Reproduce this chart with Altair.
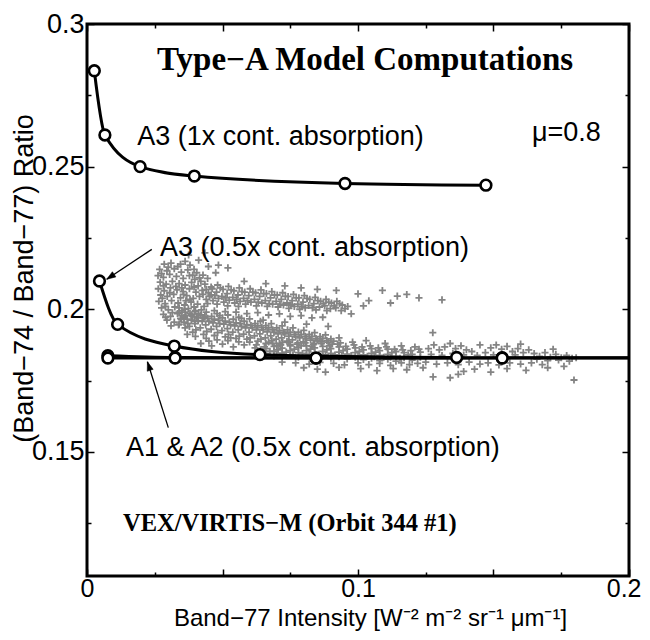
import altair as alt
import pandas as pd

# ---------------- axes ----------------
X_DOMAIN = [0.0, 0.2]
Y_DOMAIN = [0.1065, 0.3]
x_major = [0.0, 0.05, 0.1, 0.15, 0.2]
x_minor = [0.025, 0.075, 0.125, 0.175]
x_last = [0.2]
y_major = [0.15, 0.2, 0.25, 0.3]
y_minor = [0.125, 0.175, 0.225, 0.275]

# ---------------- model curves ----------------
a3_1x_x = [0.0027, 0.0066, 0.0196, 0.0396, 0.0952, 0.1472]
a3_1x_y = [0.2836, 0.2611, 0.2500, 0.2467, 0.2441, 0.2435]
a3_05x_x = [0.0046, 0.0113, 0.0322, 0.0638, 0.1364]
a3_05x_y = [0.2099, 0.1947, 0.1871, 0.1841, 0.1831]
a1_x = [0.0077, 0.0325, 0.0845, 0.1532]
a1_y = [0.1837, 0.1831, 0.1829, 0.1830]
a2_x = [0.0077, 0.0325, 0.0845, 0.1532]
a2_y = [0.1829, 0.1829, 0.1829, 0.1829]
a12_tail_x = [0.24]      # A1/A2 curves continue beyond the frame
a12_tail_y = [0.1829]

# ---------------- VIRTIS-M observations (estimated) ----------------
cloud_upper_left = [
    (0.0285, 0.2158), (0.0310, 0.2162), (0.0335, 0.2150), (0.0362, 0.2168), (0.0380, 0.2155), (0.0395, 0.2140),
    (0.0268, 0.2140), (0.0295, 0.2135), (0.0322, 0.2142), (0.0348, 0.2130), (0.0372, 0.2138), (0.0405, 0.2128),
    (0.0428, 0.2120), (0.0262, 0.2118), (0.0282, 0.2112), (0.0305, 0.2122), (0.0330, 0.2115), (0.0355, 0.2108),
    (0.0378, 0.2118), (0.0398, 0.2105), (0.0420, 0.2098), (0.0445, 0.2108), (0.0270, 0.2095), (0.0292, 0.2088),
    (0.0315, 0.2098), (0.0340, 0.2090), (0.0362, 0.2085), (0.0386, 0.2094), (0.0410, 0.2082), (0.0435, 0.2088),
    (0.0458, 0.2078), (0.0263, 0.2072), (0.0285, 0.2065), (0.0308, 0.2075), (0.0332, 0.2068), (0.0355, 0.2062),
    (0.0378, 0.2072), (0.0402, 0.2060), (0.0425, 0.2066), (0.0448, 0.2058), (0.0272, 0.2050), (0.0296, 0.2045),
    (0.0320, 0.2052), (0.0345, 0.2040), (0.0368, 0.2048), (0.0392, 0.2038), (0.0415, 0.2045), (0.0440, 0.2035),
    (0.0265, 0.2028), (0.0288, 0.2020), (0.0312, 0.2030), (0.0336, 0.2022), (0.0360, 0.2015), (0.0384, 0.2025),
    (0.0408, 0.2018), (0.0432, 0.2010), (0.0275, 0.2005), (0.0300, 0.1998), (0.0324, 0.2008), (0.0350, 0.1995),
    (0.0374, 0.2002), (0.0398, 0.1992), (0.0422, 0.1998), (0.0282, 0.1982), (0.0308, 0.1975), (0.0334, 0.1985),
    (0.0358, 0.1972), (0.0385, 0.1980), (0.0410, 0.1970), (0.0295, 0.1962), (0.0322, 0.1955), (0.0348, 0.1965),
    (0.0372, 0.1950), (0.0398, 0.1958), (0.0375, 0.2190), (0.0412, 0.2172), (0.0448, 0.2150), (0.0475, 0.2128),
    (0.0435, 0.2198), (0.0520, 0.2145), (0.0485, 0.2155),
    (0.0275, 0.2125), (0.0300, 0.2148), (0.0345, 0.2158), (0.0390, 0.2120), (0.0415, 0.2110), (0.0282, 0.2082),
    (0.0328, 0.2080), (0.0350, 0.2075), (0.0395, 0.2078), (0.0440, 0.2070), (0.0278, 0.2038), (0.0305, 0.2058),
    (0.0356, 0.2052), (0.0380, 0.2035), (0.0428, 0.2052), (0.0452, 0.2045), (0.0290, 0.2010), (0.0340, 0.2005),
    (0.0365, 0.2030), (0.0395, 0.2008), (0.0445, 0.2020), (0.0315, 0.1988), (0.0362, 0.1990), (0.0412, 0.1985),
    (0.0435, 0.1975), (0.0290, 0.1972), (0.0340, 0.1948), (0.0310, 0.1942),
]
cloud_upper_band = [
    (0.0462, 0.2072), (0.0458, 0.2050), (0.0465, 0.2030), (0.0482, 0.2085), (0.0478, 0.2060), (0.0485, 0.2038),
    (0.0480, 0.2018), (0.0502, 0.2070), (0.0498, 0.2045), (0.0505, 0.2025), (0.0522, 0.2080), (0.0517, 0.2055),
    (0.0525, 0.2032), (0.0519, 0.2012), (0.0542, 0.2065), (0.0538, 0.2042), (0.0545, 0.2022), (0.0562, 0.2075),
    (0.0557, 0.2050), (0.0565, 0.2028), (0.0559, 0.2010), (0.0582, 0.2060), (0.0578, 0.2038), (0.0585, 0.2018),
    (0.0602, 0.2072), (0.0597, 0.2048), (0.0605, 0.2025), (0.0622, 0.2058), (0.0618, 0.2035), (0.0625, 0.2012),
    (0.0642, 0.2068), (0.0637, 0.2045), (0.0645, 0.2022), (0.0662, 0.2055), (0.0658, 0.2030), (0.0665, 0.2010),
    (0.0682, 0.2062), (0.0677, 0.2040), (0.0685, 0.2018), (0.0702, 0.2050), (0.0698, 0.2028), (0.0705, 0.2008),
    (0.0722, 0.2058), (0.0717, 0.2035), (0.0725, 0.2015), (0.0742, 0.2045), (0.0738, 0.2022), (0.0745, 0.2003),
    (0.0762, 0.2052), (0.0757, 0.2030), (0.0765, 0.2010), (0.0782, 0.2040), (0.0778, 0.2018), (0.0785, 0.2000),
    (0.0802, 0.2048), (0.0797, 0.2025), (0.0805, 0.2005), (0.0822, 0.2035), (0.0818, 0.2013), (0.0842, 0.2042),
    (0.0837, 0.2020), (0.0845, 0.1998), (0.0862, 0.2028), (0.0858, 0.2008), (0.0882, 0.2035), (0.0877, 0.2012),
    (0.0885, 0.1995), (0.0902, 0.2022), (0.0898, 0.2002), (0.0922, 0.2028), (0.0918, 0.2005), (0.0942, 0.2015),
    (0.0938, 0.1995), (0.0962, 0.2010), (0.0580, 0.2098), (0.0660, 0.2090), (0.0730, 0.2082), (0.0790, 0.2075),
    (0.0850, 0.2070), (0.0920, 0.2066), (0.1000, 0.2054), (0.1090, 0.2066), (0.1145, 0.2046), (0.1225, 0.2040),
    (0.1310, 0.2033), (0.0975, 0.1984), (0.1040, 0.2030), (0.1180, 0.2052), (0.1020, 0.2012), (0.1120, 0.2022),
    (0.0472, 0.2048), (0.0492, 0.2075), (0.0512, 0.2040), (0.0532, 0.2068), (0.0552, 0.2035), (0.0572, 0.2062),
    (0.0592, 0.2030), (0.0612, 0.2060), (0.0632, 0.2025), (0.0652, 0.2055), (0.0672, 0.2020), (0.0692, 0.2050),
    (0.0712, 0.2018), (0.0732, 0.2045), (0.0752, 0.2015), (0.0772, 0.2040), (0.0792, 0.2010), (0.0812, 0.2038),
    (0.0832, 0.2005), (0.0852, 0.2030), (0.0872, 0.2020), (0.0892, 0.2025), (0.0912, 0.2012), (0.0932, 0.2020),
    (0.0952, 0.2002),
]
cloud_between = [
    (0.047, 0.1995), (0.051, 0.1992), (0.055, 0.1990), (0.059, 0.1985), (0.063, 0.1988), (0.067, 0.1980),
    (0.071, 0.1984), (0.075, 0.1975), (0.079, 0.1978), (0.083, 0.1970), (0.087, 0.1972), (0.049, 0.1978),
    (0.057, 0.1968), (0.065, 0.1962), (0.073, 0.1955), (0.081, 0.1948), (0.089, 0.1940),
]
cloud_lower_band = [
    (0.0340, 0.1990), (0.0345, 0.1968), (0.0338, 0.1945), (0.0360, 0.2000), (0.0365, 0.1978), (0.0358, 0.1955),
    (0.0362, 0.1935), (0.0380, 0.1985), (0.0385, 0.1962), (0.0378, 0.1940), (0.0400, 0.1995), (0.0405, 0.1972),
    (0.0398, 0.1950), (0.0402, 0.1928), (0.0420, 0.1980), (0.0425, 0.1958), (0.0418, 0.1935), (0.0440, 0.1990),
    (0.0445, 0.1968), (0.0438, 0.1945), (0.0442, 0.1922), (0.0460, 0.1975), (0.0465, 0.1952), (0.0458, 0.1930),
    (0.0480, 0.1985), (0.0485, 0.1962), (0.0478, 0.1940), (0.0482, 0.1918), (0.0500, 0.1970), (0.0505, 0.1948),
    (0.0498, 0.1925), (0.0520, 0.1980), (0.0525, 0.1955), (0.0518, 0.1932), (0.0522, 0.1912), (0.0540, 0.1965),
    (0.0545, 0.1942), (0.0538, 0.1920), (0.0560, 0.1972), (0.0565, 0.1950), (0.0558, 0.1928), (0.0562, 0.1906),
    (0.0580, 0.1958), (0.0585, 0.1935), (0.0578, 0.1913), (0.0600, 0.1966), (0.0605, 0.1943), (0.0598, 0.1920),
    (0.0602, 0.1900), (0.0620, 0.1950), (0.0625, 0.1928), (0.0618, 0.1907), (0.0640, 0.1958), (0.0645, 0.1936),
    (0.0638, 0.1914), (0.0642, 0.1895), (0.0660, 0.1943), (0.0665, 0.1921), (0.0658, 0.1900), (0.0680, 0.1950),
    (0.0685, 0.1928), (0.0678, 0.1907), (0.0682, 0.1890), (0.0700, 0.1935), (0.0705, 0.1914), (0.0698, 0.1895),
    (0.0720, 0.1942), (0.0725, 0.1920), (0.0718, 0.1900), (0.0722, 0.1884), (0.0740, 0.1928), (0.0745, 0.1906),
    (0.0738, 0.1888), (0.0760, 0.1935), (0.0765, 0.1912), (0.0758, 0.1893), (0.0780, 0.1920), (0.0785, 0.1900),
    (0.0778, 0.1882), (0.0800, 0.1926), (0.0805, 0.1905), (0.0798, 0.1886), (0.0820, 0.1912), (0.0825, 0.1892),
    (0.0840, 0.1918), (0.0845, 0.1897), (0.0838, 0.1880), (0.0860, 0.1904), (0.0865, 0.1886), (0.0880, 0.1910),
    (0.0885, 0.1890), (0.0900, 0.1896), (0.0905, 0.1878), (0.0930, 0.1900), (0.0935, 0.1882), (0.0400, 0.1905),
    (0.0440, 0.1898), (0.0480, 0.1893), (0.0520, 0.1890), (0.0560, 0.1886), (0.0370, 0.1912), (0.0420, 0.1880),
    (0.0460, 0.1872), (0.0500, 0.1878), (0.0540, 0.1868), (0.0580, 0.1875), (0.0620, 0.1865), (0.0450, 0.1888),
    (0.0530, 0.1900), (0.0600, 0.1885), (0.0660, 0.1880), (0.0700, 0.1872),
    (0.0350, 0.1978), (0.0370, 0.1965), (0.0390, 0.1975), (0.0410, 0.1960), (0.0430, 0.1970), (0.0450, 0.1958),
    (0.0470, 0.1965), (0.0490, 0.1950), (0.0510, 0.1958), (0.0530, 0.1945), (0.0550, 0.1952), (0.0570, 0.1940),
    (0.0590, 0.1946), (0.0610, 0.1935), (0.0630, 0.1942), (0.0650, 0.1928), (0.0670, 0.1935), (0.0690, 0.1920),
    (0.0710, 0.1926), (0.0730, 0.1914), (0.0750, 0.1920), (0.0770, 0.1905), (0.0790, 0.1912), (0.0810, 0.1898),
    (0.0830, 0.1905), (0.0850, 0.1892), (0.0870, 0.1898), (0.0890, 0.1885), (0.0910, 0.1888), (0.0390, 0.1920),
    (0.0430, 0.1912), (0.0470, 0.1908), (0.0510, 0.1903), (0.0550, 0.1898), (0.0590, 0.1895), (0.0630, 0.1888),
    (0.0670, 0.1885), (0.0710, 0.1880), (0.0750, 0.1876), (0.0790, 0.1872), (0.0830, 0.1870),
]
cloud_near_line = [
    (0.066, 0.1862), (0.066, 0.1845), (0.069, 0.1870), (0.069, 0.1852), (0.069, 0.1836), (0.072, 0.1864),
    (0.072, 0.1846), (0.075, 0.1872), (0.075, 0.1855), (0.075, 0.1838), (0.078, 0.1866), (0.078, 0.1848),
    (0.078, 0.1832), (0.081, 0.1872), (0.081, 0.1855), (0.081, 0.1838), (0.084, 0.1865), (0.084, 0.1848),
    (0.084, 0.1830), (0.087, 0.1870), (0.087, 0.1852), (0.087, 0.1836), (0.090, 0.1862), (0.090, 0.1845),
    (0.090, 0.1828), (0.093, 0.1868), (0.093, 0.1850), (0.093, 0.1834), (0.096, 0.1860), (0.096, 0.1843),
    (0.096, 0.1826), (0.099, 0.1865), (0.099, 0.1848), (0.099, 0.1832), (0.102, 0.1858), (0.102, 0.1840),
    (0.102, 0.1824), (0.105, 0.1862), (0.105, 0.1845), (0.105, 0.1828), (0.108, 0.1855), (0.108, 0.1838),
    (0.108, 0.1820), (0.111, 0.1860), (0.111, 0.1842), (0.111, 0.1825), (0.114, 0.1852), (0.114, 0.1835),
    (0.114, 0.1818), (0.117, 0.1848), (0.117, 0.1830), (0.120, 0.1842), (0.120, 0.1822), (0.123, 0.1850),
    (0.123, 0.1832), (0.126, 0.1862), (0.128, 0.1875), (0.130, 0.1858), (0.132, 0.1868), (0.134, 0.1880),
    (0.136, 0.1862), (0.138, 0.1872), (0.140, 0.1858), (0.127, 0.1842), (0.131, 0.1838), (0.135, 0.1845),
    (0.139, 0.1840), (0.142, 0.1852), (0.144, 0.1838), (0.147, 0.1848), (0.149, 0.1865), (0.151, 0.1875),
    (0.153, 0.1860), (0.155, 0.1870), (0.157, 0.1852), (0.159, 0.1862), (0.161, 0.1848), (0.163, 0.1858),
    (0.150, 0.1840), (0.154, 0.1835), (0.158, 0.1840), (0.165, 0.1845), (0.167, 0.1835), (0.169, 0.1848),
    (0.171, 0.1832), (0.173, 0.1842), (0.175, 0.1830), (0.177, 0.1838), (0.179, 0.1828), (0.166, 0.1825),
    (0.170, 0.1820), (0.174, 0.1822), (0.178, 0.1818), (0.1805, 0.1830), (0.098, 0.1885), (0.103, 0.1890),
    (0.110, 0.1880), (0.121, 0.1868), (0.1276, 0.1918), (0.116, 0.1872), (0.145, 0.1875), (0.160, 0.1878),
    (0.172, 0.1860),
    (0.0675, 0.1853), (0.0705, 0.1858), (0.0735, 0.1850), (0.0765, 0.1860), (0.0795, 0.1845), (0.0825, 0.1860),
    (0.0855, 0.1842), (0.0885, 0.1858), (0.0915, 0.1840), (0.0945, 0.1855), (0.0975, 0.1838), (0.1005, 0.1852),
    (0.1035, 0.1835), (0.1065, 0.1850), (0.1095, 0.1832), (0.1125, 0.1848), (0.1155, 0.1828), (0.1185, 0.1840),
    (0.0625, 0.1875), (0.0655, 0.1868), (0.0685, 0.1880), (0.0715, 0.1875), (0.0745, 0.1885), (0.0775, 0.1878),
    (0.0805, 0.1882), (0.0835, 0.1876), (0.0865, 0.1880), (0.0895, 0.1872), (0.0925, 0.1878), (0.0955, 0.1870),
    (0.0985, 0.1875), (0.1015, 0.1868), (0.1045, 0.1872), (0.1075, 0.1865), (0.1105, 0.1868), (0.1135, 0.1860),
    (0.1165, 0.1858), (0.1195, 0.1855), (0.1225, 0.1860), (0.0640, 0.1858), (0.0700, 0.1842), (0.0760, 0.1840),
    (0.0820, 0.1842), (0.0880, 0.1840), (0.0940, 0.1838), (0.1000, 0.1836), (0.1060, 0.1834), (0.1120, 0.1832),
]
cloud_below_line = [
    (0.072, 0.1815), (0.077, 0.1812), (0.082, 0.1808), (0.086, 0.1814), (0.091, 0.1810), (0.095, 0.1805),
    (0.100, 0.1812), (0.104, 0.1806), (0.108, 0.1810), (0.112, 0.1803), (0.116, 0.1812), (0.119, 0.1806),
    (0.122, 0.1810), (0.125, 0.1815), (0.129, 0.1808), (0.133, 0.1812), (0.137, 0.1806), (0.141, 0.1815),
    (0.145, 0.1808), (0.148, 0.1812), (0.152, 0.1805), (0.156, 0.1812), (0.160, 0.1808), (0.164, 0.1812),
    (0.168, 0.1806), (0.080, 0.1795), (0.085, 0.1790), (0.093, 0.1796), (0.101, 0.1792), (0.107, 0.1785),
    (0.113, 0.1792), (0.118, 0.1788), (0.124, 0.1795), (0.1277, 0.1763), (0.134, 0.1760), (0.137, 0.1772),
    (0.149, 0.1780), (0.143, 0.1790), (0.155, 0.1792), (0.162, 0.1786), (0.170, 0.1795), (0.1797, 0.1752),
    (0.176, 0.1800), (0.139, 0.1782), (0.088, 0.1780),
]

# ---------------- annotations ----------------
title_text = ["Type\u2212A Model Computations"]
title_x, title_y = [0.1026], [0.2874]
label_texts = ["A3 (1x cont. absorption)", "\u03bc=0.8", "A3 (0.5x cont. absorption)",
               "A1 & A2 (0.5x cont. absorption)"]
label_x = [0.0185, 0.1642, 0.0269, 0.0144]
label_y = [0.2604, 0.2618, 0.2214, 0.1514]
source_text = ["VEX/VIRTIS\u2212M (Orbit 344 #1)"]
source_x, source_y = [0.0133], [0.1247]
arrow_x = [0.0239, 0.0300]
arrow_y = [0.2210, 0.1585]
arrow_x2 = [0.00727, 0.0223]
arrow_y2 = [0.2105, 0.1816]
arrow_angle = [236, 342]

# ---------------- tables ----------------
cloud = pd.DataFrame(cloud_upper_left + cloud_upper_band + cloud_between + cloud_lower_band
                     + cloud_near_line + cloud_below_line, columns=["x", "y"])
circles = pd.DataFrame({
    "x": a3_1x_x + a3_05x_x + a1_x + a2_x,
    "y": a3_1x_y + a3_05x_y + a1_y + a2_y,
    "series": ["A3 1x"] * len(a3_1x_x) + ["A3 0.5x"] * len(a3_05x_x)
              + ["A1"] * len(a1_x) + ["A2"] * len(a2_x),
})
lines = pd.DataFrame({
    "x": a3_1x_x + a3_05x_x + a1_x + a12_tail_x + a2_x + a12_tail_x,
    "y": a3_1x_y + a3_05x_y + a1_y + a12_tail_y + a2_y + a12_tail_y,
    "series": ["A3 1x"] * len(a3_1x_x) + ["A3 0.5x"] * len(a3_05x_x)
              + ["A1"] * (len(a1_x) + 1) + ["A2"] * (len(a2_x) + 1),
})
labels = pd.DataFrame({"x": label_x, "y": label_y, "t": label_texts})
title_df = pd.DataFrame({"x": title_x, "y": title_y, "t": title_text})
source_df = pd.DataFrame({"x": source_x, "y": source_y, "t": source_text})
arrows = pd.DataFrame({"x": arrow_x, "y": arrow_y, "x2": arrow_x2, "y2": arrow_y2, "a": arrow_angle})

SANS = "Liberation Sans"
SERIF = "Liberation Serif"
FS = 27
XFS = 25
xs = alt.Scale(domain=X_DOMAIN, nice=False, zero=False)
ys = alt.Scale(domain=Y_DOMAIN, nice=False, zero=False)


def tick_axis(orient, values, size, **kw):
    base = dict(orient=orient, values=values, tickSize=size, offset=-size, domain=False, grid=False,
                ticks=True, tickColor="black", tickWidth=1.5, labels=False, title=None, zindex=1)
    base.update(kw)
    return alt.Axis(**base)


x_bottom = tick_axis(
    "bottom", x_major, 7, labels=True, labelFont=SANS, labelFontSize=XFS, labelColor="black",
    labelPadding=0, labelFlush=False, labelOverlap=False,
    labelExpr="(datum.value == 0.0 || datum.value == 0.1) ? format(datum.value, '~g') : ''",
    title="Band\u221277 Intensity [W\u207b\u00b2 m\u207b\u00b2 sr\u207b\u00b9 \u03bcm\u207b\u00b9]",
    titleFont=SANS, titleFontSize=24, titleFontWeight="normal", titleColor="black",
    titleX=283, titleY=49.3, titleAlign="center", titleBaseline="middle")
# last label kept inside the page: flush to the frame's right edge
x_bottom_last = tick_axis(
    "bottom", x_last, 7, labels=True, labelFont=SANS, labelFontSize=XFS, labelColor="black",
    labelPadding=0, labelFlush=True, labelFlushOffset=12, labelOverlap=False, format="~g")
y_left = tick_axis(
    "left", y_major, 7, labels=True, labelFont=SANS, labelFontSize=FS, labelColor="black",
    labelPadding=3, labelOverlap=False, format="~g",
    title="(Band\u221274 / Band\u221277) Ratio",
    titleFont=SANS, titleFontSize=FS, titleFontWeight="normal", titleColor="black",
    titleX=-70, titleY=254, titleAngle=270, titleAlign="center", titleBaseline="middle")

plus_path = "M-1,0L1,0M0,-1L0,1"
head_path = "M0,0L-0.45,1.3L0.45,1.3Z"

cloud_layer = alt.Chart(cloud).mark_point(
    shape=plus_path, filled=False, stroke="#848484", strokeWidth=1.8, size=50, opacity=1
).encode(x=alt.X("x:Q", scale=xs, axis=x_bottom), y=alt.Y("y:Q", scale=ys, axis=y_left))

line_layer = alt.Chart(lines).mark_line(
    color="black", strokeWidth=3, interpolate="monotone", clip=True
).encode(
    x=alt.X("x:Q", scale=xs, axis=tick_axis("bottom", x_minor, 4)),
    y=alt.Y("y:Q", scale=ys, axis=tick_axis("left", y_minor, 4)),
    detail="series:N", order="x:Q")

circle_layer = alt.Chart(circles).mark_point(
    shape="circle", filled=True, fill="white", stroke="black", strokeWidth=2.6, size=115, opacity=1
).encode(
    x=alt.X("x:Q", scale=xs, axis=tick_axis("top", x_major, 7)),
    y=alt.Y("y:Q", scale=ys, axis=tick_axis("right", y_major, 7)))

label_layer = alt.Chart(labels).mark_text(
    font=SANS, fontSize=FS, align="left", baseline="middle", color="black"
).encode(
    x=alt.X("x:Q", scale=xs, axis=tick_axis("top", x_minor, 4)),
    y=alt.Y("y:Q", scale=ys, axis=tick_axis("right", y_minor, 4)),
    text="t:N")

title_layer = alt.Chart(title_df).mark_text(
    font=SERIF, fontSize=33, fontWeight="bold", align="center", baseline="middle", color="black"
).encode(x=alt.X("x:Q", scale=xs, axis=x_bottom_last), y=alt.Y("y:Q", scale=ys, axis=None), text="t:N")

source_layer = alt.Chart(source_df).mark_text(
    font=SERIF, fontSize=24.5, fontWeight="bold", align="left", baseline="middle", color="black"
).encode(x=alt.X("x:Q", scale=xs, axis=None), y=alt.Y("y:Q", scale=ys, axis=None), text="t:N")

arrow_lines = alt.Chart(arrows).mark_rule(color="black", strokeWidth=1.3).encode(
    x=alt.X("x:Q", scale=xs, axis=None), y=alt.Y("y:Q", scale=ys, axis=None), x2="x2:Q", y2="y2:Q")

arrow_heads = alt.Chart(arrows).mark_point(
    shape=head_path, filled=True, fill="black", stroke="black", strokeWidth=0.5, size=190, opacity=1
).encode(x=alt.X("x2:Q", scale=xs, axis=None), y=alt.Y("y2:Q", scale=ys, axis=None),
         angle=alt.Angle("a:Q", scale=None))

chart = alt.layer(
    cloud_layer, line_layer, circle_layer, label_layer, title_layer, source_layer, arrow_lines, arrow_heads
).resolve_axis(x="independent", y="independent").properties(
    width=542, height=552,
    autosize=alt.AutoSizeParams(type="none"),
    padding={"left": 79, "top": 16, "right": 13, "bottom": 56},
    background="white",
).configure_view(stroke="black", strokeWidth=3)

chart.save("out.html", embed_options={"renderer": "svg", "actions": False})
